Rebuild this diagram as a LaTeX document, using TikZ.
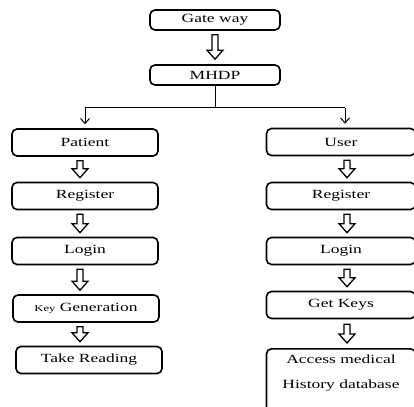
\documentclass[tikz,border=0pt]{standalone}
\usepackage{fontspec}
\setmainfont{Liberation Serif}[FakeStretch=1.4]
\usetikzlibrary{calc,arrows.meta}
\begin{document}
\begin{tikzpicture}[x=1pt,y=-1pt,
  box/.style={draw, line width=1.6pt, rounded corners=5pt, minimum width=146pt,
    minimum height=27pt, inner sep=0pt, font=\fontsize{12.5}{14}\selectfont, text=black},
  rbox/.style={box, minimum width=149pt},
  hollow/.style={line width=1.3pt, line join=miter,
    to path={let \p1=(\tikztostart), \p2=(\tikztotarget) in
      (\x1-3pt,\y1) -- (\x1-3pt,\y2+9pt) -- (\x1-8pt,\y2+9pt) -- (\x1,\y2)
      -- (\x1+8pt,\y2+9pt) -- (\x1+3pt,\y2+9pt) -- (\x1+3pt,\y1) -- cycle}},
  thinline/.style={line width=1pt},
  thinarrow/.style={thinline, -{Straight Barb[length=5pt,width=9pt]}}
]
\useasboundingbox[fill=white] (0,0) rectangle (414,406);

\node[box, minimum width=130pt, minimum height=20pt] (gw) at (215,20) {Gate way};
\node[box, minimum width=130pt, minimum height=20pt] (mhdp) at (215,75) {MHDP};

\node[box] (p1) at (85,142.5) {Patient};
\node[box] (p2) at (85,196) {Register};
\node[box] (p3) at (85,251) {Login};
\node[box] (p4) at (86,308.5) {{\fontsize{9}{10}\selectfont Key} Generation};
\node[box] (p5) at (89,360) {Take Reading};

\node[rbox] (u1) at (341,142) {User};
\node[rbox] (u2) at (341,196) {Register};
\node[rbox] (u3) at (341,251) {Login};
\node[rbox] (u4) at (341,305) {Get Keys};
\node[rbox, anchor=north, minimum height=64pt] (u5) at (341,348)
  {\raisebox{8pt}[\height][\depth]{\begin{tabular}{@{}c@{}}Access medical\\[11pt]History database\end{tabular}}};

\draw[hollow] ([yshift=-4pt]gw.south) to ([yshift=5pt]mhdp.north);

\coordinate (j) at (215,108);
\coordinate (jl) at (85,108);
\coordinate (jr) at (345,108);
\draw[thinline] (mhdp.south) -- (j);
\draw[thinline] (jl) -- (jr);
\draw[thinarrow] (jl) -- ([yshift=4pt]p1.north);
\draw[thinarrow] (jr) -- ([yshift=4pt]jr |- u1.north);

\draw[hollow] ([xshift=-5pt,yshift=-4pt]p1.south) to ([xshift=-5pt,yshift=4pt]p2.north);
\draw[hollow] ([xshift=-5pt,yshift=-4pt]p2.south) to ([xshift=-5pt,yshift=4pt]p3.north);
\draw[hollow] ([xshift=-5pt,yshift=-4pt]p3.south) to ([xshift=-5pt,yshift=4pt]p4.north);
\draw[hollow] ([xshift=-6pt,yshift=-4pt]p4.south) to ([xshift=-6pt,yshift=4pt]p5.north);

\draw[hollow] ([xshift=6pt,yshift=-4pt]u1.south) to ([xshift=6pt,yshift=4pt]u2.north);
\draw[hollow] ([xshift=6pt,yshift=-4pt]u2.south) to ([xshift=6pt,yshift=4pt]u3.north);
\draw[hollow] ([xshift=6pt,yshift=-4pt]u3.south) to ([xshift=6pt,yshift=4pt]u4.north);
\draw[hollow] ([xshift=6pt,yshift=-5pt]u4.south) to ([xshift=6pt,yshift=5pt]u5.north);
\end{tikzpicture}
\end{document}
